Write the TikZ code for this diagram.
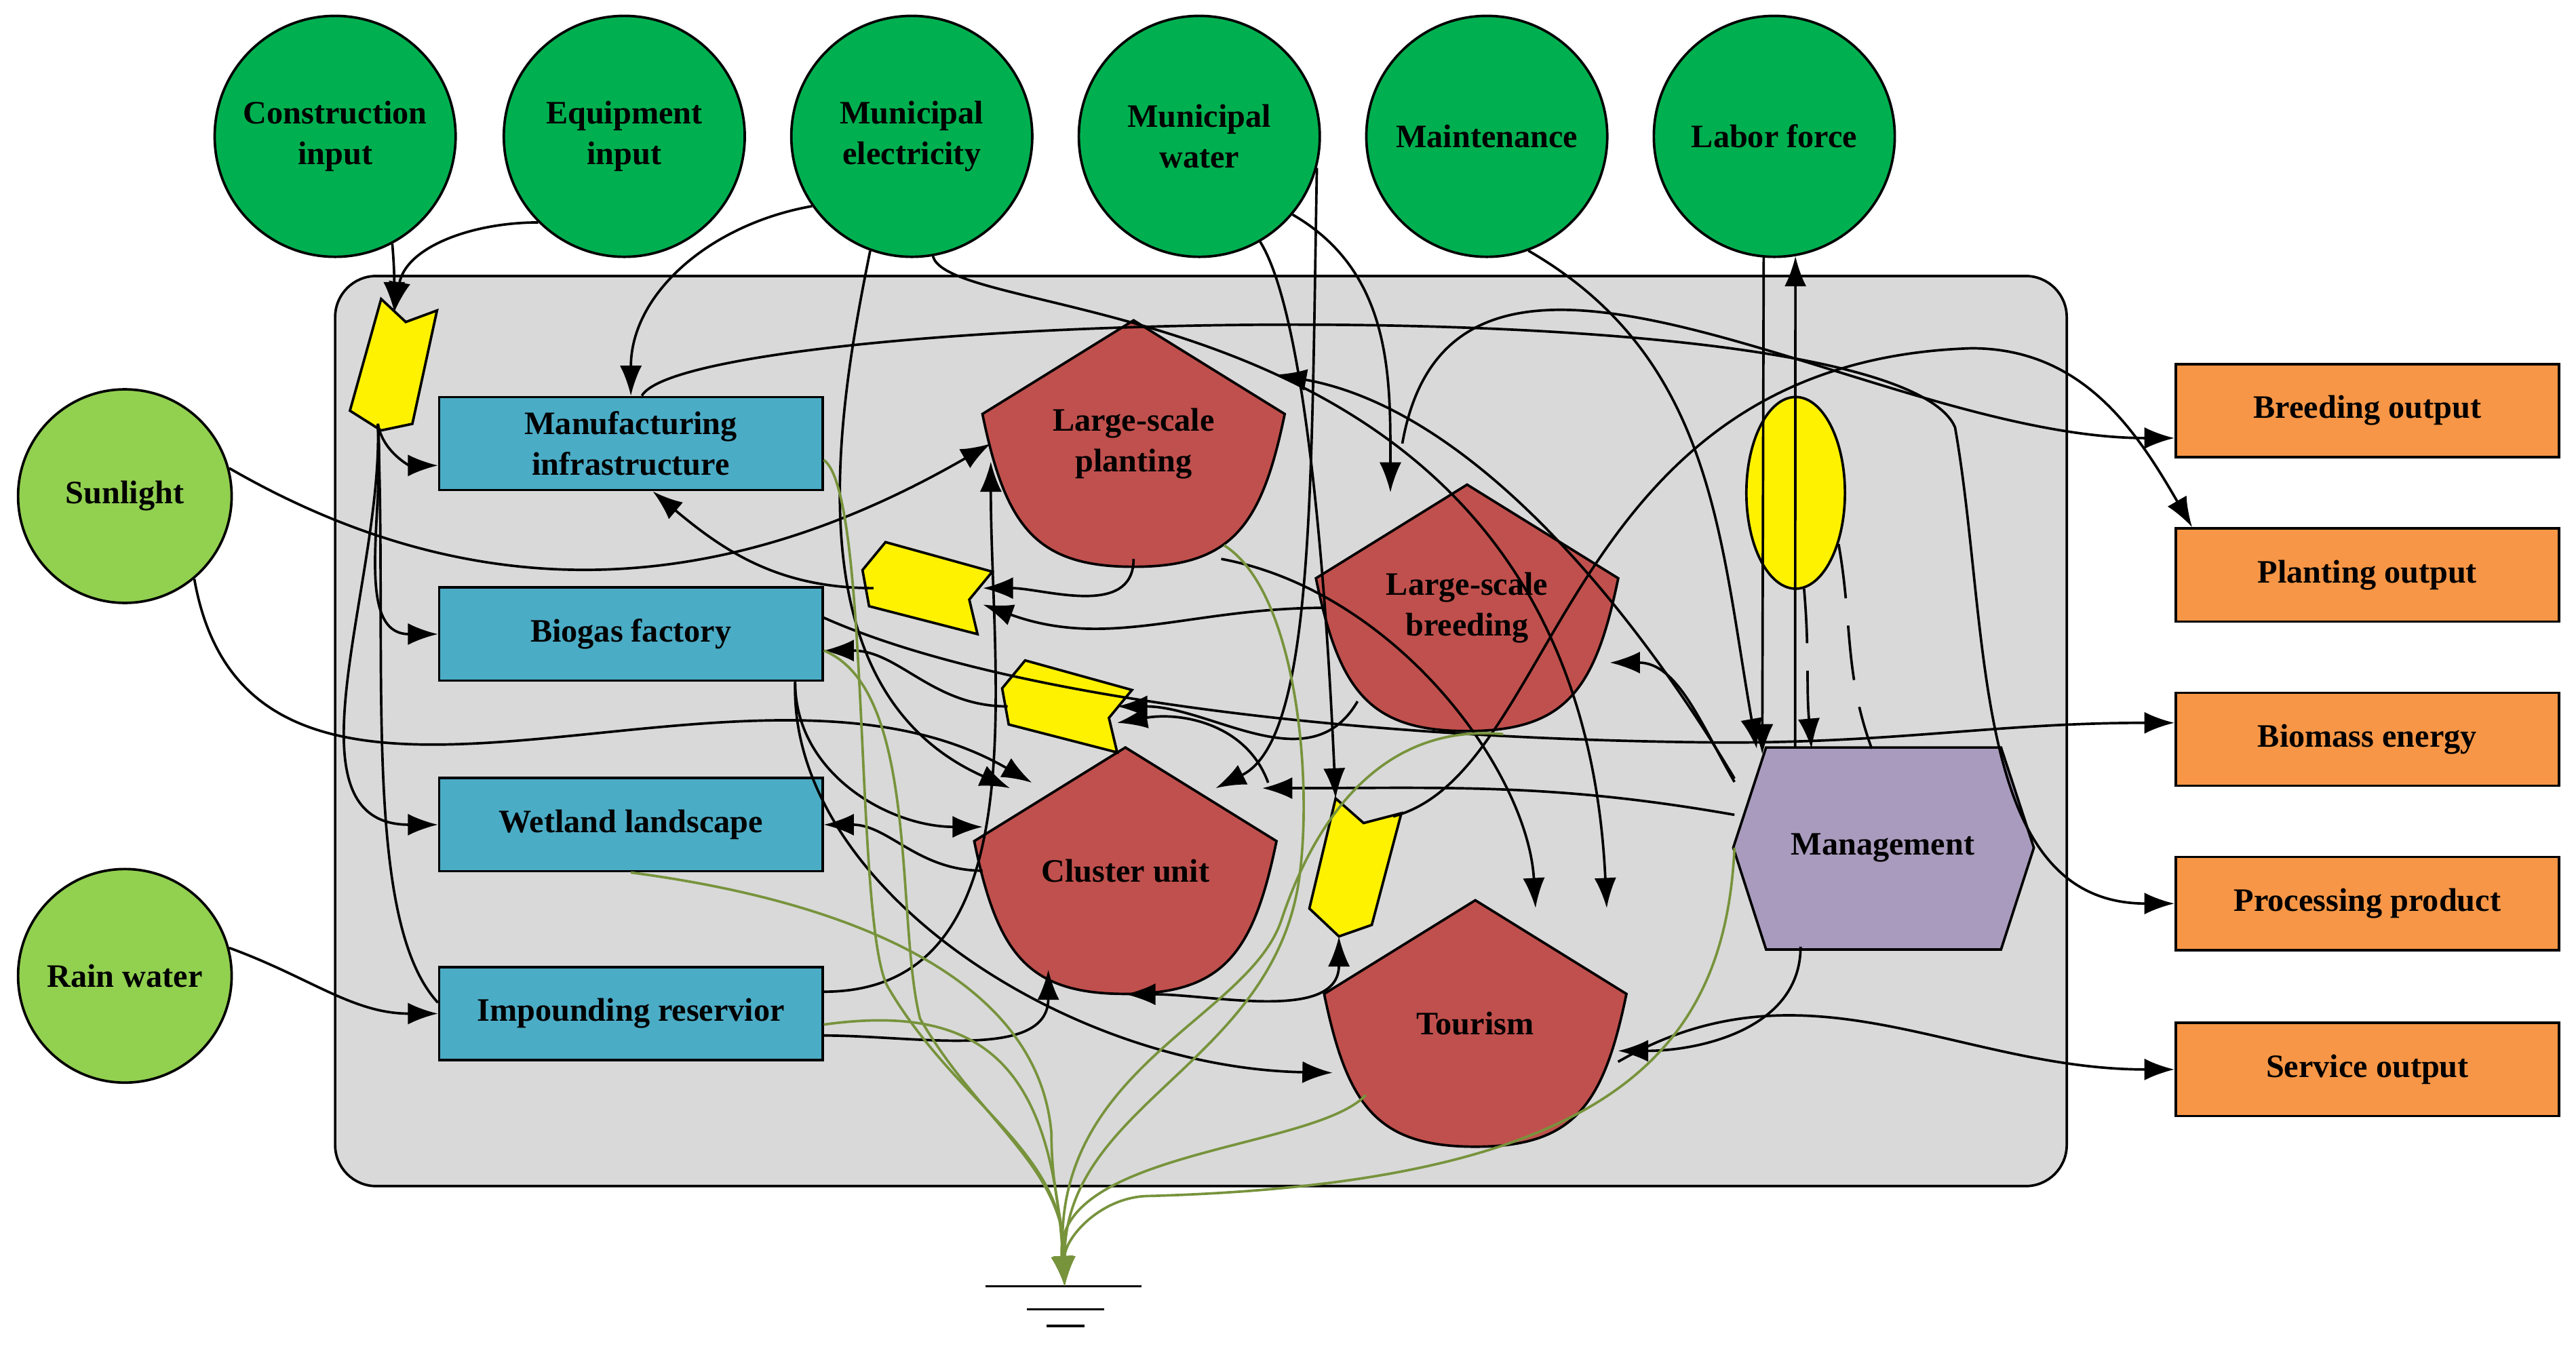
\documentclass[tikz,border=0pt]{standalone}
\usepackage{fontspec}
\setmainfont{Liberation Serif}
\usetikzlibrary{shapes.geometric, arrows.meta}
\definecolor{src}{HTML}{00B050}
\definecolor{nat}{HTML}{92D050}
\definecolor{sub}{HTML}{4BACC6}
\definecolor{cons}{HTML}{C0504D}
\definecolor{outp}{HTML}{F79646}
\definecolor{ctrl}{HTML}{A99BBD}
\definecolor{heat}{HTML}{77933C}
\definecolor{sys}{HTML}{D9D9D9}
\tikzset{
	>={Latex[length=5.5mm, width=4mm]}, % bold arrow heads
	every node/.style={font=\fontsize{17}{21}\selectfont\bfseries, align=center},
	source/.style={circle, draw, line width=1.3pt, fill=src, minimum size=4.4cm, inner sep=0},
	nature/.style={source, fill=nat, minimum size=3.9cm},
	store/.style={rectangle, draw, line width=1.3pt, fill=sub, minimum width=7cm, minimum height=1.7cm},
	output/.style={store, fill=outp},
	hub/.style={minimum width=5.2cm, minimum height=4.2cm, inner sep=0},
	gatefill/.style={line width=1.3pt, fill=yellow},
	flow/.style={->, line width=1.3pt},
	heatflow/.style={->, draw=heat, line width=1.3pt},
}
% consumer shape: name, x, y, text
\newcommand\cons[4]{
	\begin{scope}[shift={(#2,#3)}]
		\draw[line width=1.3pt, fill=cons] (0,-75) -- (92,-18) .. controls (78,50) and (60,75) .. (0,75)
			.. controls (-60,75) and (-78,50) .. (-92,-18) -- cycle;
		\node[hub] (#1) at (0,0) {#4};
	\end{scope}
}
% interaction shape: name, x, y
\newcommand\gate[3]{
	\begin{scope}[shift={(#2,#3)}]
		\draw[gatefill] (-26,-28) -- (39,-10) -- (25,7) -- (30,28) -- (-36,11) -- (-40,-11) -- cycle;
		\coordinate (#1) at (0,0);
	\end{scope}
}

\begin{document}
\begin{tikzpicture}[x=0.03cm, y=-0.03cm]
	\useasboundingbox (0,0) rectangle (1568,821);
	\draw[line width=1.3pt, fill=sys, rounded corners=0.75cm] (204,168) rectangle (1258,722);

	% sources
	\node[source] (ci) at (204,83) {Construction\\input};
	\node[source] (ei) at (380,83) {Equipment\\input};
	\node[source] (me) at (555,83) {Municipal\\electricity};
	\node[source] (mw) at (730,83) {Municipal\\water};
	\node[source] (mt) at (905,83) {Maintenance};
	\node[source] (lf) at (1080,83) {Labor force};
	\node[nature] (sun) at (76,302) {Sunlight};
	\node[nature] (rain) at (76,594) {Rain water};

	% storages
	\node[store] (mfg) at (384,270) {Manufacturing\\infrastructure};
	\node[store] (bio) at (384,386) {Biogas factory};
	\node[store] (wet) at (384,502) {Wetland landscape};
	\node[store] (res) at (384,617) {Impounding reservior};

	% consumers
	\cons{pl}{690}{270}{Large-scale\\planting}
	\cons{br}{893}{370}{Large-scale\\breeding}
	\cons{cu}{685}{530}{Cluster unit}
	\cons{tou}{898}{623}{Tourism}

	% management
	\draw[line width=1.3pt, fill=ctrl] (1055,516) -- (1075,455) -- (1218,455) -- (1238,516) -- (1218,578) -- (1075,578) -- cycle;
	\node[minimum width=5.4cm, minimum height=3.6cm] (mgmt) at (1146,516) {Management};

	% outputs
	\node[output] (bo) at (1441,250) {Breeding output};
	\node[output] (po) at (1441,350) {Planting output};
	\node[output] (be) at (1441,450) {Biomass energy};
	\node[output] (pp) at (1441,550) {Processing product};
	\node[output] (so) at (1441,651) {Service output};

	% interactions
	\draw[gatefill] (232,182) -- (247,196) -- (266,189) -- (251,258) -- (232,262) -- (213,250) -- cycle;
	\coordinate (y1) at (240,190);
	\coordinate (y1b) at (230,258);
	\gate{y2}{565}{358}
	\gate{y3}{650}{430}
	\draw[gatefill] (813,486) -- (830,501) -- (853,495) -- (835,563) -- (815,570) -- (797,553) -- cycle;
	\coordinate (y4) at (813,486);
	\coordinate (y4t) at (848,497);
	\coordinate (y4b) at (815,570);
	\node[ellipse, draw, line width=1.3pt, fill=yellow, minimum width=1.8cm, minimum height=3.5cm] (ye) at (1093,300) {};

	% heat sink
	\coordinate (gnd) at (648,783);
	\draw[line width=1.3pt] (600,783) -- (695,783) (625,797) -- (672,797) (637,807) -- (660,807);

	% input flows
	\draw[flow] (ci.-62) to[out=-85, in=90] (y1);
	\draw[flow] (ei.225) to[out=180, in=80] (y1);
	\draw[flow] (me.215) to[out=190, in=90] (mfg.north);
	\draw[flow] (y1b) to[out=-80, in=180] ([yshift=-0.4cm]mfg.west);
	\draw[flow] (y1b) to[out=-85, in=180] (bio.west);
	\draw[flow] (y1b) to[out=-88, in=180] (wet.west);
	\draw[line width=1.3pt] (y1b) .. controls (236,400) and (220,560) .. ([yshift=0.2cm]res.west);
	\draw[flow] (sun.15) to[out=-30, in=210] (pl.west);
	\draw[flow] (sun.-50) to[out=-80, in=150] ([xshift=0.9cm, yshift=-0.5cm]cu.north west);
	\draw[flow] (rain.15) to[out=-20, in=180] (res.west);
	\draw[flow] (me.-110) .. controls (510,250) and (480,420) .. ([xshift=0.5cm, yshift=-0.6cm]cu.north west);
	\draw[flow] (me.-80) .. controls (580,200) and (960,170) .. ([xshift=2.4cm]tou.north);
	\draw[flow] (mw.-40) to[out=-30, in=90] ([xshift=-1.4cm]br.north);
	\draw[flow] (mw.-15) .. controls (798,300) and (800,450) .. ([xshift=1.65cm, yshift=-0.6cm]cu.north);
	\draw[flow] (mw.-60) .. controls (800,200) and (810,420) .. (y4);
	\draw[flow] (mt.-70) to[out=-30, in=100] ([xshift=-2.3cm]mgmt.north);
	\draw[flow] (lf.-95) -- ([xshift=-2.2cm, yshift=-0.1cm]mgmt.north);
	\draw[flow] ([xshift=-1.6cm]mgmt.north) -- (lf.-80);
	\draw[flow, dashed, dash pattern=on 1cm off 0.5cm] (ye.-85) to[out=-85, in=95] ([xshift=-1.3cm]mgmt.north);
	\draw[line width=1.3pt, dashed, dash pattern=on 1cm off 0.5cm] (ye.-50) to[out=-80, in=110] ([xshift=-0.2cm]mgmt.north);

	% internal flows
	\draw[flow] (pl.south) to[out=-90, in=0] ([xshift=1cm]y2);
	\draw[flow] ([xshift=-1cm]y2) to[out=180, in=-40] ([xshift=0.4cm]mfg.south);
	\draw[flow] (br.west) to[out=180, in=-20] ([xshift=1cm, yshift=-0.3cm]y2);
	\draw[flow] ([xshift=-2cm, yshift=0.4cm]br.south) to[out=-120, in=0] ([xshift=0.9cm]y3);
	\draw[flow] ([yshift=-0.5cm]cu.north east) to[out=110, in=10] ([xshift=0.9cm, yshift=-0.3cm]y3);
	\draw[flow] ([xshift=-1.1cm]y3) to[out=180, in=0] ([yshift=-0.3cm]bio.east);
	\draw[flow] (mgmt.155) .. controls (1000,380) and (900,250) .. ([yshift=1.26cm]pl.east);
	\draw[flow] ([yshift=1.2cm]mgmt.west) to[out=120, in=0] ([yshift=-1cm]br.east);
	\draw[flow] ([yshift=0.6cm]mgmt.west) to[out=170, in=0] ([xshift=2.5cm, yshift=-0.6cm]cu.north);
	\draw[flow] ([xshift=-1.5cm]mgmt.south) to[out=-90, in=0] ([yshift=-0.5cm]tou.east);
	\draw[flow] (cu.west) to[out=180, in=0] (wet.east);
	\draw[flow] ([yshift=0.4cm]res.east) to[out=0, in=-90] ([yshift=-0.33cm]pl.west);
	\draw[flow] ([yshift=-0.4cm]res.east) to[out=0, in=-90] ([xshift=1.2cm, yshift=0.3cm]cu.south west);
	\draw[flow] ([xshift=3cm]bio.south) to[out=-90, in=180] ([yshift=0.8cm]cu.west);
	\draw[flow] ([xshift=3cm]bio.south) .. controls (480,540) and (650,650) .. ([yshift=-0.9cm]tou.west);
	\draw[flow] ([xshift=1.6cm]pl.south) .. controls (850,360) and (930,470) .. ([xshift=1.1cm]tou.north);
	\draw[flow, <->] ([yshift=-0.15cm]cu.south) to[out=0, in=-90] (y4b);

	% output flows
	\draw[flow] ([xshift=2.3cm]pl.east) to[out=80, in=180] ([yshift=-0.5cm]bo.west);
	\draw[flow] (y4t) .. controls (950,470) and (950,220) .. (1200,212) to[out=0, in=120] ([xshift=-3.2cm]po.north);
	\draw[flow] ([xshift=0.2cm]mfg.north) .. controls (420,190) and (1150,170) .. (1190,260) to[out=-80, in=180] (pp.west);
	\draw[flow] ([yshift=0.3cm]bio.east) .. controls (600,420) and (800,450) .. (1050,452) to[out=0, in=180] ([yshift=0.3cm]be.west);
	\draw[flow] ([yshift=-0.7cm]tou.east) to[out=30, in=180] (so.west);

	% heat flows
	\draw[heatflow] ([yshift=-0.3cm]mfg.east) .. controls (530,300) and (520,560) .. (540,600) to[out=-60, in=90] (gnd);
	\draw[heatflow] ([yshift=-0.3cm]bio.east) .. controls (560,420) and (545,560) .. (560,620) to[out=-60, in=90] (gnd);
	\draw[heatflow] (wet.south) .. controls (450,540) and (630,570) .. (640,690) to[out=-90, in=90] (gnd);
	\draw[heatflow] ([yshift=-0.2cm]res.east) .. controls (600,610) and (640,650) .. (gnd);
	\draw[heatflow] ([xshift=1.65cm, yshift=0.25cm]pl.south) .. controls (790,360) and (800,480) .. (790,540) to[out=-100, in=90] (gnd);
	\draw[heatflow] ([xshift=0.66cm, yshift=-0.2cm]br.south) .. controls (840,440) and (800,500) .. (780,560) .. controls (760,620) and (640,650) .. (gnd);
	\draw[heatflow] ([xshift=-2cm, yshift=0.8cm]tou.south) .. controls (800,700) and (640,700) .. (gnd);
	\draw[heatflow] (mgmt.west) .. controls (1050,640) and (980,720) .. (700,728) to[out=180, in=90] (gnd);
\end{tikzpicture}
\end{document}
